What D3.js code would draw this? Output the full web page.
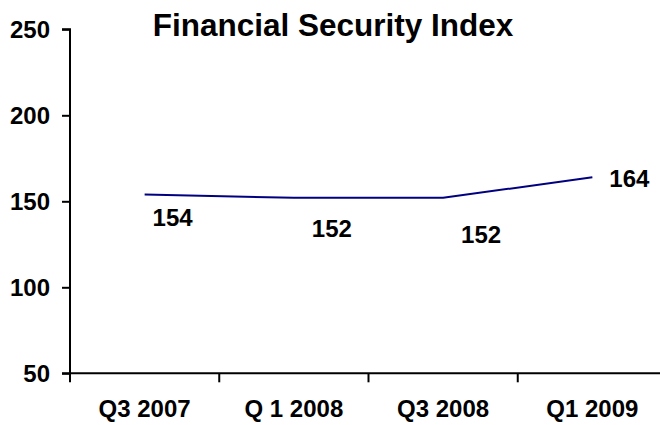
<!DOCTYPE html>
<html>
<head>
<meta charset="utf-8">
<script src="https://cdn.jsdelivr.net/npm/d3@7/dist/d3.min.js"></script>
<style>
  html, body { margin: 0; padding: 0; background: #fff; }
  svg { display: block; }
  text { font-family: "Liberation Sans", Arial, sans-serif; font-weight: bold; fill: #000; }
</style>
</head>
<body>
<svg id="chart" width="660" height="425"></svg>
<script>
// Quarterly survey results
const quarters = ["Q3 2007", "Q 1 2008", "Q3 2008", "Q1 2009"];
const indexValues = [154, 152, 152, 164];
const yTicks = [50, 100, 150, 200, 250];
const chartTitle = "Financial Security Index";

// Hand-placed offsets for the value labels (relative to each point)
const labelOffsets = [[28, 32], [38, 39], [38, 45], [37, 10]];

const width = 660, height = 425;
const margin = { left: 70, top: 29.3, bottom: 425 - 373.3 };
const plotRight = 667;

const svg = d3.select("#chart");

const x = d3.scaleBand()
  .domain(quarters)
  .range([margin.left, plotRight])
  .paddingInner(0).paddingOuter(0);

const y = d3.scaleLinear()
  .domain([50, 250])
  .range([height - margin.bottom, margin.top]);

// Y axis
const yAxis = svg.append("g")
  .attr("transform", `translate(${margin.left},0)`)
  .call(d3.axisLeft(y).tickValues(yTicks).tickSize(8).tickPadding(12));
yAxis.select(".domain").attr("stroke", "#000").attr("stroke-width", 2)
  .attr("d", `M0,${y(50)}V${y(250)}H-8M0,${y(50)}`);
yAxis.selectAll(".tick line").attr("stroke", "#000").attr("stroke-width", 2);
yAxis.selectAll(".tick text")
  .style("font-size", "24px")
  .style("font-family", "'Liberation Sans', Arial, sans-serif")
  .style("font-weight", "bold")
  .attr("fill", "#000")
  .attr("dy", "0.36em");

// X axis: ticks sit on category boundaries
const xAxisG = svg.append("g")
  .attr("transform", `translate(0,${y(50)})`);
xAxisG.append("line")
  .attr("x1", margin.left - 8).attr("x2", width)
  .attr("stroke", "#000").attr("stroke-width", 2);
xAxisG.selectAll("line.tick")
  .data(quarters)
  .join("line")
  .attr("class", "tick")
  .attr("x1", d => x(d)).attr("x2", d => x(d))
  .attr("y1", 0).attr("y2", 9)
  .attr("stroke", "#000").attr("stroke-width", 2);
xAxisG.selectAll("text")
  .data(quarters)
  .join("text")
  .attr("x", d => x(d) + x.bandwidth() / 2)
  .attr("y", 44)
  .attr("text-anchor", "middle")
  .style("font-size", "24px")
  .text(d => d);

// Series line
const line = d3.line()
  .x((d, i) => x(quarters[i]) + x.bandwidth() / 2)
  .y(d => y(d));

svg.append("path")
  .datum(indexValues)
  .attr("d", line)
  .attr("fill", "none")
  .attr("stroke", "#000080")
  .attr("stroke-width", 2);

// Value labels
svg.selectAll("text.value")
  .data(indexValues)
  .join("text")
  .attr("class", "value")
  .attr("x", (d, i) => x(quarters[i]) + x.bandwidth() / 2 + labelOffsets[i][0])
  .attr("y", (d, i) => y(d) + labelOffsets[i][1])
  .attr("text-anchor", "middle")
  .style("font-size", "24px")
  .text(d => d);

// Title
svg.append("text")
  .attr("x", 333)
  .attr("y", 36)
  .attr("text-anchor", "middle")
  .style("font-size", "31.5px")
  .text(chartTitle);
</script>
</body>
</html>
